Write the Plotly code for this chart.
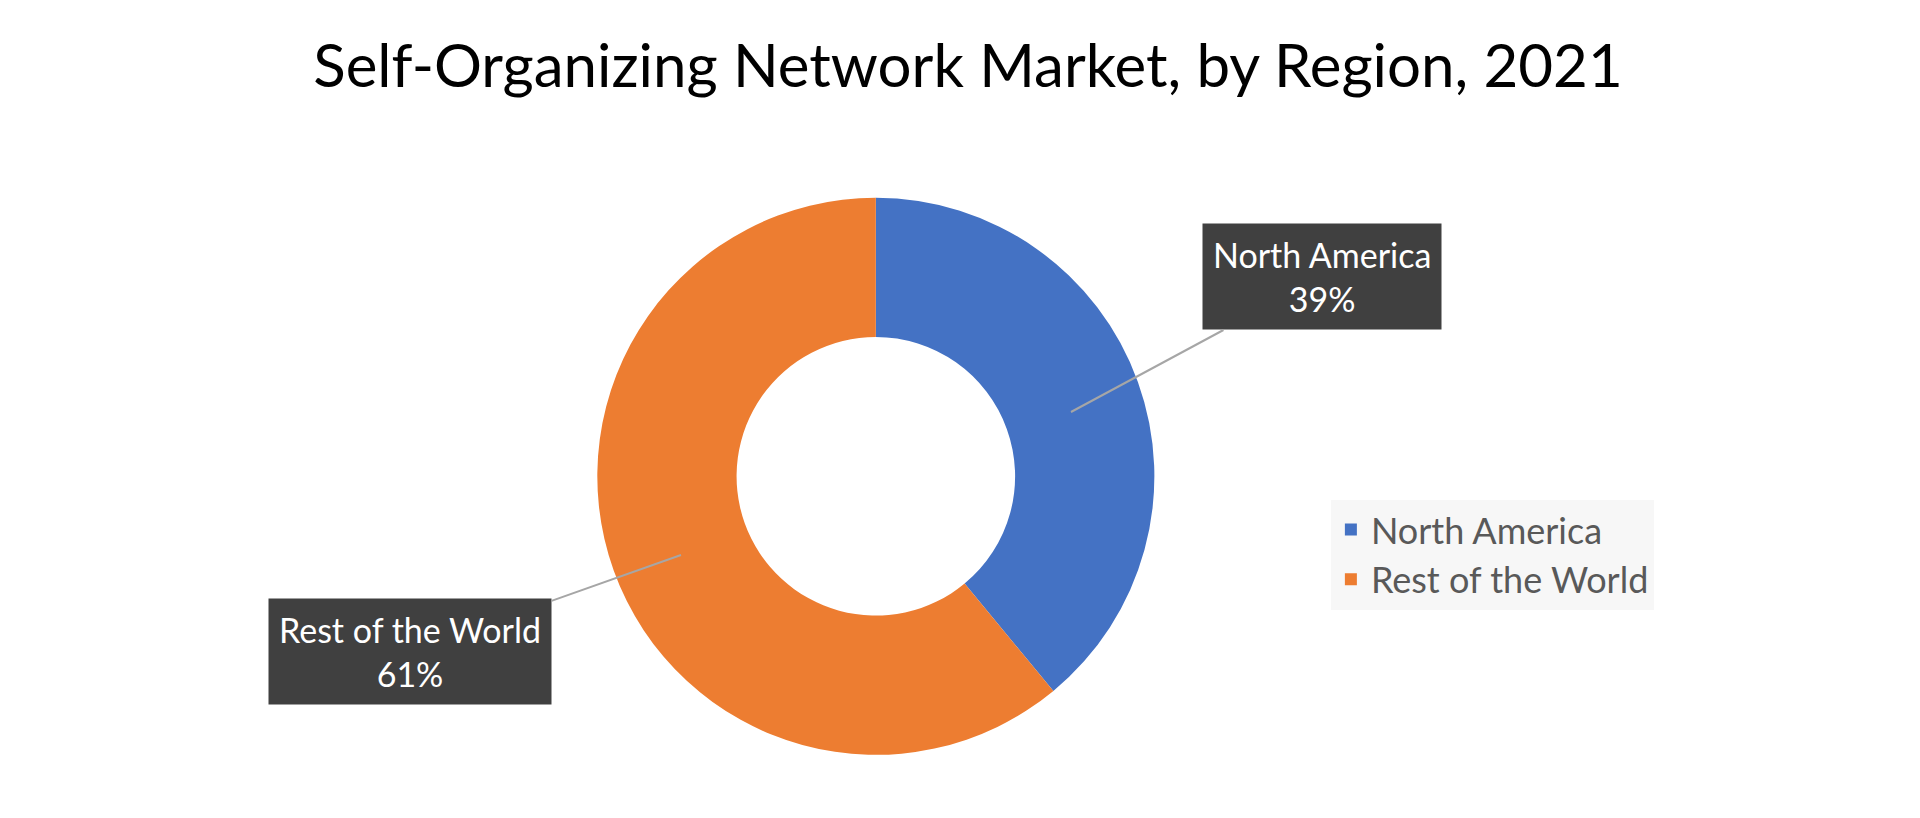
import plotly.graph_objects as go

regions = ["North America", "Rest of the World"]
shares = [39, 61]
colors = ["#4472C4", "#ED7D31"]

fig = go.Figure(go.Pie(
    labels=regions, values=shares, hole=0.5, sort=False, direction="clockwise",
    rotation=0, marker=dict(colors=colors, line=dict(color="white", width=0)),
    textinfo="none", hoverinfo="label+percent",
    domain=dict(x=[0.306, 0.598], y=[0.087, 0.768]),
))

def lab(name, pct, x, y, ax, ay):
    fig.add_annotation(
        x=x, y=y, xref="paper", yref="paper", ax=ax, ay=ay,
        text=f"{name}<br>{pct}%", showarrow=True, arrowhead=0, arrowwidth=2,
        arrowcolor="#A6A6A6", font=dict(color="white", size=34, family="Lato"),
        bgcolor="#404040", borderpad=10,
    )

lab(regions[0], shares[0], 1063/1920, 1-404/818, 251, -135)
lab(regions[1], shares[1], 673/1920, 1-547/818, -271, 96)

fig.update_layout(
    width=1920, height=818, paper_bgcolor="white", plot_bgcolor="white",
    margin=dict(l=0, r=0, t=0, b=0),
    title=dict(text="Self-Organizing Network Market, by Region, 2021", x=0.5, y=0.955,
               xanchor="center", font=dict(size=60, family="Lato", color="black")),
    legend=dict(x=0.689, y=0.399, xanchor="left", yanchor="top", bgcolor="#F7F7F7",
                font=dict(size=36, family="Lato", color="#595959"), itemwidth=30,
                borderwidth=0),
)
fig.write_html("out.html")
